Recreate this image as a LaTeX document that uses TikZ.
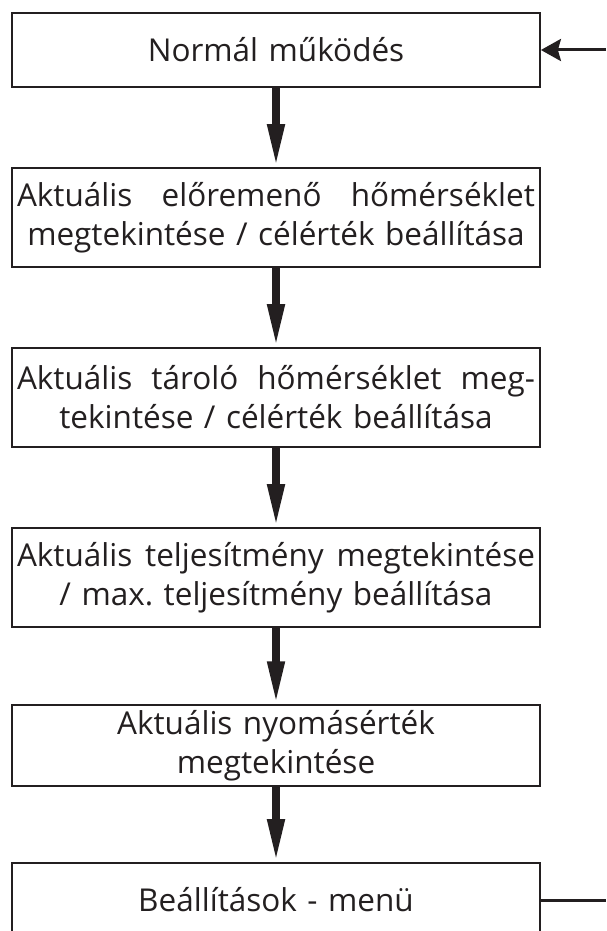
\documentclass[tikz,border=0pt]{standalone}
\usepackage{fontspec}
\setmainfont{Open Sans}
\usetikzlibrary{arrows.meta}
\definecolor{ink}{HTML}{231F20}

\begin{document}
\begin{tikzpicture}[x=1pt,y=-1pt]
				\tikzstyle{every node}=[font=\fontsize{31.5}{39}\selectfont, text=ink]
				\tikzstyle{box}=[draw=ink, line width=1.8pt, text width=518pt, inner sep=5pt, align=center]
				\tikzstyle{flow}=[draw=ink, line width=7.5pt, -{Triangle[length=43pt,width=16pt]}]
				\useasboundingbox (0,0) rectangle (606,931);
				\clip (0,0) rectangle (606,931);
				\draw (276,50) node[box, minimum height=74pt] (normal) {Normál működés};
				\draw (276,217.5) node[box, minimum height=99pt] (elore) {Aktuális\hfill előremenő\hfill hőmérséklet\\ megtekintése / célérték beállítása};
				\draw (276,397.5) node[box, minimum height=99pt] (tarolo) {Aktuális\hfill tároló\hfill hőmérséklet\hfill meg-\\ tekintése / célérték beállítása};
				\draw (276,577.5) node[box, minimum height=99pt] (telj) {Aktuális\hfill teljesítmény\hfill megtekintése\\ / max.\ teljesítmény beállítása};
				\draw (276,745.5) node[box, minimum height=75pt] (nyomas) {Aktuális nyomásérték\\ megtekintése};
				\draw (276,900) node[box, minimum height=74pt] (menu) {Beállítások - menü};
				\coordinate (vissza) at (606,50);
				\coordinate (ki) at (606,900);
				\draw[flow] (normal) -- (elore);
				\draw[flow] (elore) -- (tarolo);
				\draw[flow] (tarolo) -- (telj);
				\draw[flow] (telj) -- (nyomas);
				\draw[flow] (nyomas) -- (menu);
				\draw[draw=ink, line width=3pt, -{Stealth[length=20pt,width=22pt,inset=3pt]}] (vissza) -- (normal);
				\draw[draw=ink, line width=3pt] (menu) -- (ki);
\end{tikzpicture}
\end{document}
